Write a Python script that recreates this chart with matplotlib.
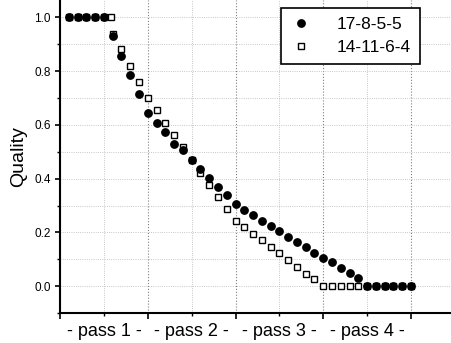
import matplotlib
matplotlib.use("Agg")
import matplotlib.pyplot as plt
from matplotlib.ticker import FixedLocator, NullFormatter, FixedFormatter

plt.rcParams['font.family'] = ['Liberation Sans', 'DejaVu Sans']

# ---- data ----
series1_label = "17-8-5-5"
series2_label = "14-11-6-4"

circ_x = list(range(1, 41))
circ_y = [1.0, 1.0, 1.0, 1.0, 1.0, 0.93, 0.855, 0.785, 0.714, 0.643,
          0.608, 0.572, 0.528, 0.507, 0.469, 0.435, 0.401, 0.370, 0.340, 0.305,
          0.283, 0.264, 0.242, 0.223, 0.205, 0.182, 0.164, 0.144, 0.123, 0.104,
          0.088, 0.068, 0.049, 0.029, 0.0, 0.0, 0.0, 0.0, 0.0, 0.0]

sq_x = [1, 2, 3, 4, 5, 5.8] + list(range(6, 41))
sq_y = [1.0, 1.0, 1.0, 1.0, 1.0, 1.0, 0.94, 0.881, 0.819, 0.760, 0.701,
        0.654, 0.607, 0.561, 0.516, 0.468, 0.420, 0.375, 0.333, 0.288, 0.243,
        0.219, 0.194, 0.170, 0.144, 0.122, 0.097, 0.072, 0.047, 0.025, 0.0,
        0.0, 0.0, 0.0, 0.0, 0.0, 0.0, 0.0, 0.0, 0.0, 0.0]

pass_positions = [5, 15, 25, 35]
pass_labels = ["- pass 1 -", "- pass 2 -", "- pass 3 -", "- pass 4 -"]
y_ticks = [0.0, 0.2, 0.4, 0.6, 0.8, 1.0]
y_ticklabels = ["0.0", "0.2", "0.4", "0.6", "0.8", "1.0"]

# ---- figure ----
W, H = 452, 343
fig = plt.figure(figsize=(W / 100, H / 100), dpi=100)
ax = fig.add_axes([60 / W, 30 / H, (W - 60) / W, 313 / H])

ax.plot(sq_x, sq_y, linestyle='none', marker='s', markersize=4.6,
        markerfacecolor='white', markeredgecolor='black', markeredgewidth=1.0,
        label=series2_label, zorder=3)
ax.plot(circ_x, circ_y, linestyle='none', marker='o', markersize=5.3,
        markerfacecolor='black', markeredgecolor='black',
        label=series1_label, zorder=4)

ax.set_xlim(0, 44.67)
ax.set_ylim(-0.1, 1.065)

# x ticks: major every 10 (unlabelled), minor every 5 carrying pass labels
ax.xaxis.set_major_locator(FixedLocator([0, 10, 20, 30, 40]))
ax.xaxis.set_major_formatter(NullFormatter())
ax.xaxis.set_minor_locator(FixedLocator(pass_positions))
ax.xaxis.set_minor_formatter(FixedFormatter(pass_labels))
ax.tick_params(axis='x', which='major', direction='out', length=4.5, width=1.2)
ax.tick_params(axis='x', which='minor', direction='out', length=2.5, width=1.0,
               labelsize=13, pad=5)

ax.yaxis.set_major_locator(FixedLocator(y_ticks))
ax.yaxis.set_major_formatter(FixedFormatter(y_ticklabels))
ax.yaxis.set_minor_locator(FixedLocator([-0.1, 0.1, 0.3, 0.5, 0.7, 0.9]))
ax.tick_params(axis='y', which='major', direction='out', length=3.8, width=1.2,
               labelsize=8.5, pad=3)
ax.tick_params(axis='y', which='minor', direction='out', length=2.2, width=1.0)

ax.set_ylabel("Quality", fontsize=14, labelpad=5)

for s in ['top', 'right']:
    ax.spines[s].set_visible(False)
for s in ['left', 'bottom']:
    ax.spines[s].set_linewidth(1.5)

ax.grid(which='both', linestyle=':', linewidth=0.6, color='#b5b5b5', zorder=0)
ax.xaxis.grid(which='major', linestyle=':', linewidth=0.8, color='#808080')
ax.set_axisbelow(True)

handles, labels = ax.get_legend_handles_labels()
leg = ax.legend(handles[::-1], labels[::-1], loc='upper right',
                bbox_to_anchor=(0.918, 0.9735), borderaxespad=0,
                fontsize=12.5, frameon=True, fancybox=False,
                handlelength=1.2, handletextpad=1.5, borderpad=0.5,
                labelspacing=0.45)
leg.get_frame().set_edgecolor('black')
leg.get_frame().set_linewidth(1.2)
leg.get_frame().set_alpha(1.0)

fig.savefig("out.png", dpi=100)
